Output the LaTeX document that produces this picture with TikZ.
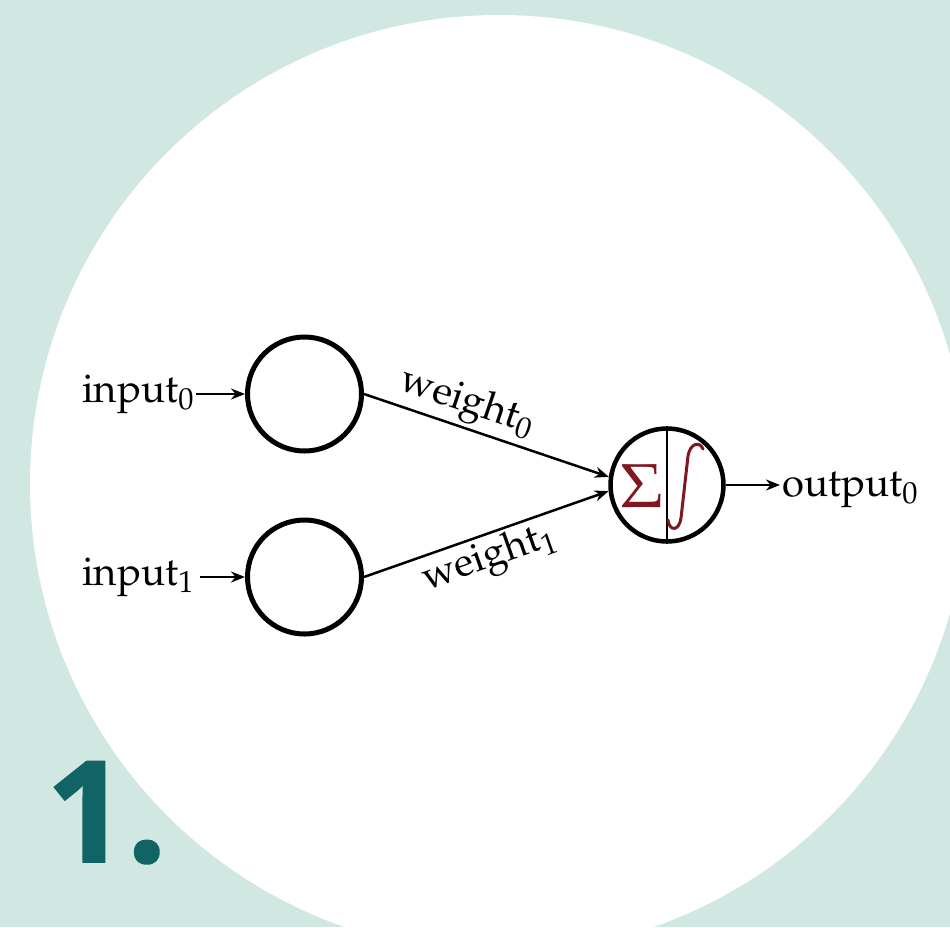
\documentclass[tikz,border=0pt]{standalone}
\usepackage{fontspec}
\newfontfamily\numfont{Open Sans}[BoldFeatures={FakeBold=1.2}]
\usepackage[T1]{fontenc}
\usepackage{mathpazo}
\usetikzlibrary{arrows.meta}
\definecolor{bgteal}{RGB}{208,231,226}
\definecolor{numteal}{RGB}{17,100,101}
\definecolor{sigred}{RGB}{128,22,30}
\tikzset{
  neuron/.style={circle, draw=black, line width=5pt, minimum size=114pt, inner sep=0pt},
  sumnode/.style={circle, draw=black, line width=4.5pt, minimum size=113pt, inner sep=0pt},
  lbl/.style={font=\fontsize{40}{44}\selectfont, inner sep=2pt, text=black},
  wlbl/.style={font=\fontsize{40}{44}\selectfont, inner sep=3pt, text=black},
  conn/.style={line width=2.5pt, -{Stealth[length=14pt,width=11pt]}},
  intstroke/.style={draw=sigred, line width=3pt, line cap=round}
}
\begin{document}
\begin{tikzpicture}[x=1pt,y=-1pt]
\useasboundingbox (0,0) rectangle (950,927);
\fill[bgteal] (0,0) rectangle (950,927);
\begin{scope}
  \clip (0,0) rectangle (950,927);
  \fill[white] (499,484) circle[radius=469pt];
\end{scope}
% neurons
\node[neuron] (in0) at (304.5,394) {};
\node[neuron] (in1) at (304.5,577) {};
\node[sumnode] (sum) at (667,485) {};
\draw[line width=2pt] (sum.north) -- (sum.south);
\node[text=sigred, font=\fontsize{62}{62}\selectfont, inner sep=0pt] (sig) at (642,486) {$\Sigma$};
\draw[intstroke] (668,520) .. controls (669,531) and (679,532) .. (681,518) -- (688,456) .. controls (690,443) and (700,441) .. (703,449);
% texts
\node[lbl, anchor=base west] (t0) at (80,402) {input$_0$};
\node[lbl, anchor=base west] (t1) at (80,585) {input$_1$};
\node[lbl, anchor=base west] (out) at (780,496) {output$_0$};
% connectors
\draw[conn] (in0 -| t0.east) -- (in0.west);
\draw[conn] ([xshift=4pt]in1 -| t1.east) -- (in1.west);
\draw[conn] (sum.east) -- (sum -| out.west);
\draw[conn] (in0.east) -- node[wlbl, sloped, above, pos=0.39] (w0) {weight$_0$} (sum.172);
\draw[conn] (in1.east) -- node[wlbl, sloped, below, pos=0.48] (w1) {weight$_1$} (sum.186);
% number
\node[anchor=base west, text=numteal, font=\numfont\bfseries\fontsize{141}{141}\selectfont, inner sep=0pt] (num) at (46,862) {1.};
\end{tikzpicture}
\end{document}
